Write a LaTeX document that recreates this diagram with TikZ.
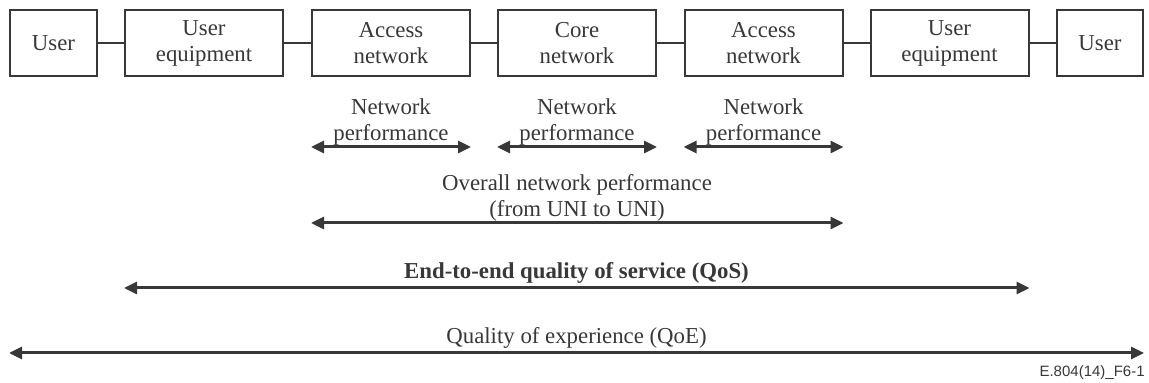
\documentclass[tikz,border=0pt]{standalone}
\usepackage{fontspec}
\setmainfont{Liberation Serif}
\newfontfamily\figfont{Liberation Sans}
\usetikzlibrary{arrows.meta}
\definecolor{ink}{gray}{0.22}

\begin{document}
\begin{tikzpicture}[x=0.5pt, y=-0.5pt,
    box/.style={draw=ink, line width=1pt, minimum width=79pt, minimum height=33pt, inner sep=0pt, align=center, text=ink, font=\fontsize{11.4}{13}\selectfont},
    lbl/.style={align=center, text=ink, inner sep=0pt, font=\fontsize{11.4}{13}\selectfont},
    span/.style={draw=ink, line width=1.5pt, {Triangle[length=6.5pt,width=6pt]}-{Triangle[length=6.5pt,width=6pt]}}]
        \useasboundingbox (0,0) rectangle (1149,383);
		\node[box, minimum width=43.5pt] (user1) at (53.5,43) {User};
		\node[box] (ue1) at (204,43) {User\\equipment};
		\node[box] (an1) at (391,43) {Access\\network};
		\node[box] (cn) at (577,43) {Core\\network};
		\node[box] (an2) at (763.5,43) {Access\\network};
		\node[box] (ue2) at (949.5,43) {User\\equipment};
		\node[box, minimum width=43pt] (user2) at (1100,43) {User};
        \draw[ink, line width=0.75pt] (user1) -- (ue1);
        \draw[ink, line width=0.75pt] (ue1) -- (an1);
        \draw[ink, line width=0.75pt] (an1) -- (cn);
        \draw[ink, line width=0.75pt] (cn) -- (an2);
        \draw[ink, line width=0.75pt] (an2) -- (ue2);
        \draw[ink, line width=0.75pt] (ue2) -- (user2);
        \coordinate (np) at (0,147);
        \coordinate (onp) at (0,223);
        \coordinate (qos) at (0,288);
        \coordinate (qoe) at (0,353);
		\draw[span] (an1.west |- np) -- (an1.east |- np);
		\draw[span] (cn.west |- np) -- (cn.east |- np);
		\draw[span] (an2.west |- np) -- (an2.east |- np);
		\draw[span] (an1.west |- onp) -- (an2.east |- onp);
		\draw[span] (ue1.west |- qos) -- (ue2.east |- qos);
		\draw[span] (user1.west |- qoe) -- (user2.east |- qoe);
        \node[lbl] (np1) at (391,122) {Network\\performance};
        \node[lbl] (np2) at (577,122) {Network\\performance};
        \node[lbl] (np3) at (763.5,122) {Network\\performance};
        \node[lbl] (onplbl) at (577,197.5) {Overall network performance\\(from UNI to UNI)};
        \node[lbl, font=\fontsize{11.4}{13}\selectfont\bfseries] (qoslbl) at (576.5,273) {End-to-end quality of service (QoS)};
        \node[lbl] (qoelbl) at (576.5,338) {Quality of experience (QoE)};
        \node[anchor=east, inner sep=0pt, text=ink, font=\figfont\fontsize{7.5}{9}\selectfont] (figid) at (1145,373) {E.804(14)\_F6-1};
	\end{tikzpicture}
\end{document}
